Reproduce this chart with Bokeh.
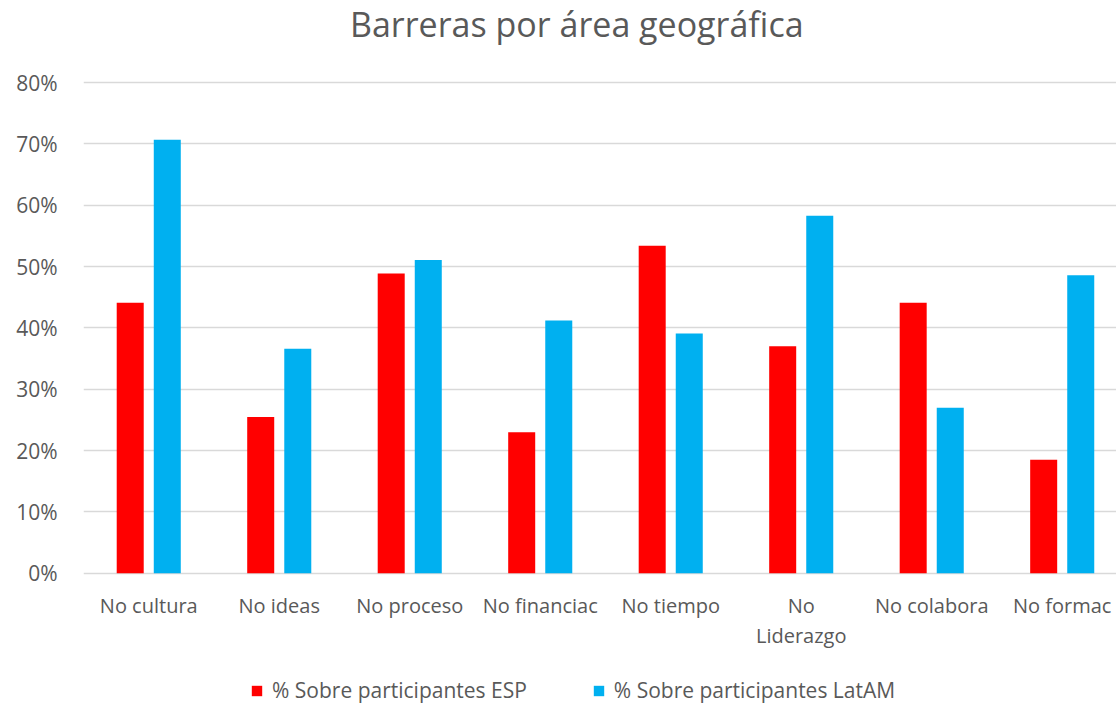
import numpy as np
from bokeh.plotting import figure
from bokeh.models import (ColumnDataSource, Legend, LegendItem, NumeralTickFormatter,
                          FixedTicker, Range1d)
from bokeh.core.properties import value
from bokeh.transform import dodge
from bokeh.embed import file_html
from bokeh.resources import INLINE

title = "Barreras por área geográfica"
categories = ["No cultura", "No ideas", "No proceso", "No financiac", "No tiempo",
              "No Liderazgo", "No colabora", "No formac"]
esp = [0.441, 0.255, 0.489, 0.230, 0.534, 0.370, 0.441, 0.185]
latam = [0.707, 0.366, 0.511, 0.412, 0.391, 0.583, 0.270, 0.486]
series_names = ["% Sobre participantes ESP", "% Sobre participantes LatAM"]
y_ticks = [0, 0.1, 0.2, 0.3, 0.4, 0.5, 0.6, 0.7, 0.8]

FONT = "Open Sans"
GREY = "#595959"

# layout constants (frame extended above/below the value range to hold title and labels)
Y_TOP = 0.934
Y_BOTTOM = -0.214
X_END = 7.916
TITLE_X = 3.78
TITLE_Y = 0.896

xpos = [i + 0.5 for i in range(len(categories))]
labels = [c.replace("No Liderazgo", "No\nLiderazgo") for c in categories]
src = ColumnDataSource(dict(x=xpos, cat=categories, label=labels, esp=esp, latam=latam,
                            base=[0] * len(categories)))

p = figure(x_range=Range1d(0, X_END), y_range=Range1d(Y_BOTTOM, Y_TOP),
           width=1116, height=704, output_backend="svg", toolbar_location=None,
           min_border_left=83, min_border_right=0, min_border_top=0, min_border_bottom=0)

r1 = p.vbar(x=dodge("x", -0.142), top="esp", width=0.207, source=src,
            fill_color="#FF0000", line_color=None)
r2 = p.vbar(x=dodge("x", 0.142), top="latam", width=0.207, source=src,
            fill_color="#00B0F0", line_color=None)

# category labels under the baseline
p.text(x="x", y="base", text="label", source=src, text_align="center",
       text_baseline="top", y_offset=19, text_font=value(FONT), text_font_size="20px",
       text_color=GREY, text_line_height=1.1)

# chart title
p.text(x=[TITLE_X], y=[TITLE_Y], text=[title], text_align="center", text_baseline="middle",
       text_font=value(FONT), text_font_size="34px", text_color=GREY)

p.outline_line_color = None
p.xgrid.grid_line_color = None
p.ygrid.grid_line_color = "#d9d9d9"
p.ygrid.grid_line_width = 1.5

p.xaxis.visible = False

p.yaxis.ticker = FixedTicker(ticks=y_ticks)
p.yaxis.formatter = NumeralTickFormatter(format="0%")
p.yaxis.axis_line_color = None
p.yaxis.major_tick_line_color = None
p.yaxis.minor_tick_line_color = None
p.yaxis.major_tick_out = 0
p.yaxis.major_label_text_font = FONT
p.yaxis.major_label_text_font_size = "21px"
p.yaxis.major_label_text_color = GREY
p.yaxis.major_label_standoff = 26

legend = Legend(items=[LegendItem(label=series_names[0], renderers=[r1]),
                       LegendItem(label=series_names[1], renderers=[r2])],
                orientation="horizontal", location=(167, 0),
                label_text_font=FONT, label_text_font_size="21px", label_text_color=GREY,
                glyph_width=13, glyph_height=13, spacing=65, label_standoff=9,
                border_line_color=None, background_fill_alpha=0, padding=0, margin=0)
p.add_layout(legend, "center")

open("out.html", "w").write(file_html(p, INLINE))
